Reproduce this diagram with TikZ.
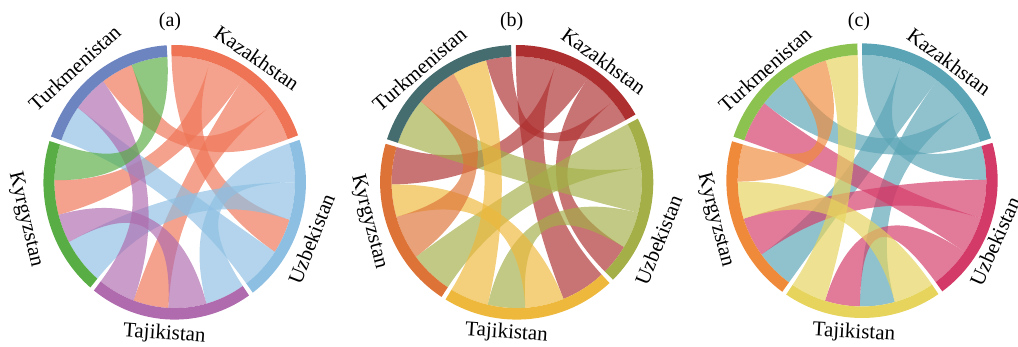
\documentclass[tikz,border=0pt]{standalone}
\usepackage{fontspec}
\setmainfont{Liberation Serif}
\definecolor{KazA}{HTML}{EE7455}\definecolor{UzbA}{HTML}{8DBFE3}\definecolor{TajA}{HTML}{AF6BAE}
\definecolor{KyrA}{HTML}{59AD45}\definecolor{TurA}{HTML}{6C84C0}
\definecolor{KazB}{HTML}{AE2F2F}\definecolor{UzbB}{HTML}{A4AF48}\definecolor{TajB}{HTML}{EEB83C}
\definecolor{KyrB}{HTML}{DD7336}\definecolor{TurB}{HTML}{456C6F}
\definecolor{KazC}{HTML}{5AA4B5}\definecolor{UzbC}{HTML}{D43A68}\definecolor{TajC}{HTML}{E6D45C}
\definecolor{KyrC}{HTML}{F08A3B}\definecolor{TurC}{HTML}{8CC24F}
\def\Rout{137.3}\def\Rring{125.8}\def\Rin{125.8}\def\Rc{41.9}\def\Ry{137.3}
\newcommand\chordrib[5]{%
  \fill[#1, rib] ({90-(#2)}:\Rin)
    arc[start angle={90-(#2)}, end angle={90-(#3)}, radius=\Rin]
    .. controls ({90-(#3)}:\Rc) and ({90-(#4)}:\Rc) .. ({90-(#4)}:\Rin)
    arc[start angle={90-(#4)}, end angle={90-(#5)}, radius=\Rin]
    .. controls ({90-(#5)}:\Rc) and ({90-(#2)}:\Rc) .. cycle;}
\newcommand\ringseg[3]{%
  \fill[#1] ({90-(#2)}:\Rout)
    arc[start angle={90-(#2)}, end angle={90-(#3)}, radius=\Rout]
    -- ({90-(#3)}:\Rring)
    arc[start angle={90-(#3)}, end angle={90-(#2)}, radius=\Rring] -- cycle;}
\newcommand\ctylabel[5]{\node[lab, rotate={#4}] (#1) at ({90-(#2)}:{#3*\Ry}) {#5};}
\begin{document}
\begin{tikzpicture}[x=1pt,y=1pt,
  lab/.style={font=\fontsize{21}{24}\selectfont, inner sep=0pt, anchor=center},
  ttl/.style={font=\fontsize{20}{24}\selectfont, inner sep=0pt},
  rib/.style={fill opacity=0.67}]
\useasboundingbox (0,0) rectangle (1018,346);
% ---------------- panel (a)
\begin{scope}[shift={(174.7,163.7)}, xscale=0.956]
\chordrib{KazA}{-1.5}{17}{107.3}{123.6}
\chordrib{KazA}{17}{34.6}{255}{271}
\chordrib{KazA}{34.6}{52.8}{183}{200}
\chordrib{KazA}{52.8}{70}{323.5}{339}
\chordrib{UzbA}{72}{90}{145.5}{164.7}
\chordrib{UzbA}{90}{107.3}{220}{241.6}
\chordrib{UzbA}{123.6}{143.5}{289.5}{306.3}
\chordrib{TajA}{164.7}{183}{241.6}{255}
\chordrib{TajA}{200}{218}{306.3}{323.5}
\chordrib{KyrA}{271}{287.5}{339}{356.5}
\ringseg{KazA}{-1.5}{70}
\ringseg{UzbA}{72}{143.5}
\ringseg{TajA}{145.5}{218}
\ringseg{KyrA}{220}{287.5}
\ringseg{TurA}{289.5}{356.5}
\ctylabel{kazA}{34.7}{1.10}{-34.7}{Kazakhstan}
\ctylabel{uzbA}{111.5}{1.12}{68.5}{Uzbekistan}
\ctylabel{tajA}{184.1}{1.11}{-4.1}{Tajikistan}
\ctylabel{kyrA}{256.6}{1.17}{-76.6}{Kyrgyzstan}
\ctylabel{turA}{317.5}{1.13}{42.5}{Turkmenistan}
\end{scope}
\node[ttl] (ta) at (170,324) {(a)};
% ---------------- panel (b)
\begin{scope}[shift={(516.7,163.7)}, xscale=0.995]
\chordrib{KazB}{-0.4}{18.4}{137.2}{158}
\chordrib{KazB}{18.4}{34.5}{269}{286.3}
\chordrib{KazB}{34.5}{50}{121}{135.2}
\chordrib{KazB}{50}{60.4}{345.8}{357.6}
\chordrib{UzbB}{62.4}{83.3}{213.4}{233.7}
\chordrib{UzbB}{83.3}{104}{288.3}{310}
\chordrib{UzbB}{104}{121}{176}{193.4}
\chordrib{TajB}{158}{176}{254}{269}
\chordrib{TajB}{193.4}{211.4}{329.6}{345.8}
\chordrib{KyrB}{233.7}{254}{310}{329.6}
\ringseg{KazB}{-0.4}{60.4}
\ringseg{UzbB}{62.4}{135.2}
\ringseg{TajB}{137.2}{211.4}
\ringseg{KyrB}{213.4}{286.3}
\ringseg{TurB}{288.3}{357.6}
\ctylabel{kazB}{35.8}{1.09}{-35.8}{Kazakhstan}
\ctylabel{uzbB}{112}{1.12}{68}{Uzbekistan}
\ctylabel{tajB}{183.9}{1.10}{-3.9}{Tajikistan}
\ctylabel{kyrB}{255.2}{1.12}{-75.2}{Kyrgyzstan}
\ctylabel{turB}{319.2}{1.09}{40.8}{Turkmenistan}
\end{scope}
\node[ttl] (tb) at (511.7,324) {(b)};
% ---------------- panel (c)
\begin{scope}[shift={(862,165.3)}, xscale=0.988]
\chordrib{KazC}{0}{18.8}{74}{89.6}
\chordrib{KazC}{18.8}{37.2}{216}{234}
\chordrib{KazC}{37.2}{55.3}{164.7}{181}
\chordrib{KazC}{55.3}{72}{308}{325.7}
\chordrib{UzbC}{89.6}{107.3}{234}{252.4}
\chordrib{UzbC}{107.3}{124.5}{288.7}{308}
\chordrib{UzbC}{124.5}{143.7}{181}{197.3}
\chordrib{TajC}{145.7}{164.7}{252.4}{269.6}
\chordrib{TajC}{197.3}{214}{343}{358}
\chordrib{KyrC}{269.6}{286.7}{325.7}{343}
\ringseg{KazC}{0}{72}
\ringseg{UzbC}{74}{143.7}
\ringseg{TajC}{145.7}{214}
\ringseg{KyrC}{216}{286.7}
\ringseg{TurC}{288.7}{358}
\ctylabel{kazC}{36.5}{1.08}{-36.5}{Kazakhstan}
\ctylabel{uzbC}{114.2}{1.075}{65.8}{Uzbekistan}
\ctylabel{tajC}{183.1}{1.11}{-3.1}{Tajikistan}
\ctylabel{kyrC}{255.2}{1.12}{-75.2}{Kyrgyzstan}
\ctylabel{turC}{318.5}{1.08}{41.5}{Turkmenistan}
\end{scope}
\node[ttl] (tc) at (859,324) {(c)};
\end{tikzpicture}
\end{document}
